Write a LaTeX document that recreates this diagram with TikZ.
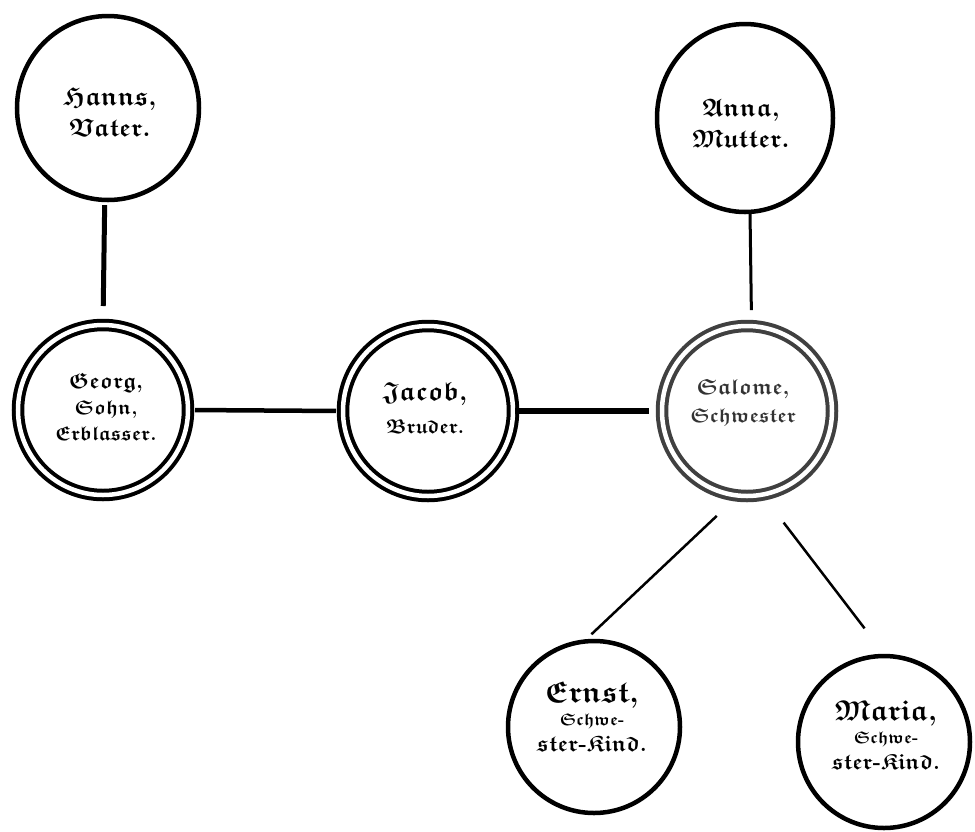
\documentclass[tikz,border=0pt]{standalone}
\usepackage{amssymb}
\usetikzlibrary{shapes.geometric}
\newcommand{\fr}[1]{\ensuremath{\mathfrak{#1}}}
\newcommand{\fsz}[1]{\fontsize{#1}{1.2\dimexpr#1pt\relax}\selectfont}
\newcommand{\lrg}[2]{\scalebox{#1}{#2}}
\begin{document}
\begin{tikzpicture}[x=1pt,y=-1pt,
  ring/.style={ellipse, draw, line width=4.5pt, inner sep=0pt},
  dring/.style={circle, draw, line width=4pt, double, double distance=4.5pt, inner sep=0pt, minimum size=170pt},
  txt/.style={align=center, inner sep=0pt, font=\bfseries\boldmath\fontsize{24}{29}\selectfont},
  conn/.style={line width=4.5pt}
]
\useasboundingbox[fill=white] (0,0) rectangle (975,831);

% circles
\node[ring, minimum width=182pt, minimum height=184pt] (hanns) at (108,108) {};
\node[ring, minimum width=176pt, minimum height=188pt] (anna) at (745,118) {};
\node[dring] (georg) at (103,410) {};
\node[dring] (jacob) at (428,411) {};
\node[dring, draw=black!75] (salome) at (747,411) {};
\node[ring, minimum size=172pt] (ernst) at (594,727) {};
\node[ring, minimum size=172pt] (maria) at (884,742) {};

% texts
\node[txt] (hannsT) at (110,112) {\lrg{1.08}{\fr{Hanns},}\\[2pt] \lrg{1.05}{\fr{Vater}.}};
\node[txt] (annaT) at (741,123) {\lrg{1.05}{\fr{Anna},}\\[2pt] \lrg{1.05}{\fr{Mutter}.}};
\node[txt] (georgT) at (106,407) {\fsz{22}\fr{Georg},\\[-3pt] \fsz{20}\fr{Sohn},\\[-3pt] \fsz{20}\fr{Erblasser}.};
\node[txt] (jacobT) at (425,408) {\fsz{21}\lrg{1.25}{\fr{Jacob},}\\[4pt] \fsz{20}\fr{Bruder}.};
\node[txt, text=black!80] (salomeT) at (743,403) {\fsz{22}\fr{Salome},\\[-1pt] \fsz{20}\fr{Schwester}};
\node[txt] (ernstT) at (592,717) {\lrg{1.25}{\fr{Ernst},}\\[-6pt] \fsz{17}\fr{Schwe}-\\[-3pt] \fsz{20}\lrg{1.12}{\fr{ster}-\fr{Kind}.}};
\node[txt] (mariaT) at (886,735) {\lrg{1.2}{\fr{Maria},}\\[-6pt] \fsz{17}\fr{Schwe}-\\[-3pt] \fsz{20}\lrg{1.1}{\fr{ster}-\fr{Kind}.}};

% connectors
\draw[conn, line width=5pt, shorten <=3pt, shorten >=17pt] (hanns.-92) -- (georg.90);
\draw[conn, line width=3pt, shorten >=14pt] (anna.-87) -- (salome.87);
\draw[conn, shorten <=5pt, shorten >=5pt] (georg.east) -- (jacob.west);
\draw[conn, line width=5.5pt, shorten >=11pt] (jacob.east) -- (salome.west);
\draw[line width=2.5pt, shorten <=27pt, shorten >=7pt] (salome.-97) -- (ernst.95);
\draw[line width=2.5pt, shorten <=33pt, shorten >=32pt] (salome.-79) -- (maria.90);
\end{tikzpicture}
\end{document}
